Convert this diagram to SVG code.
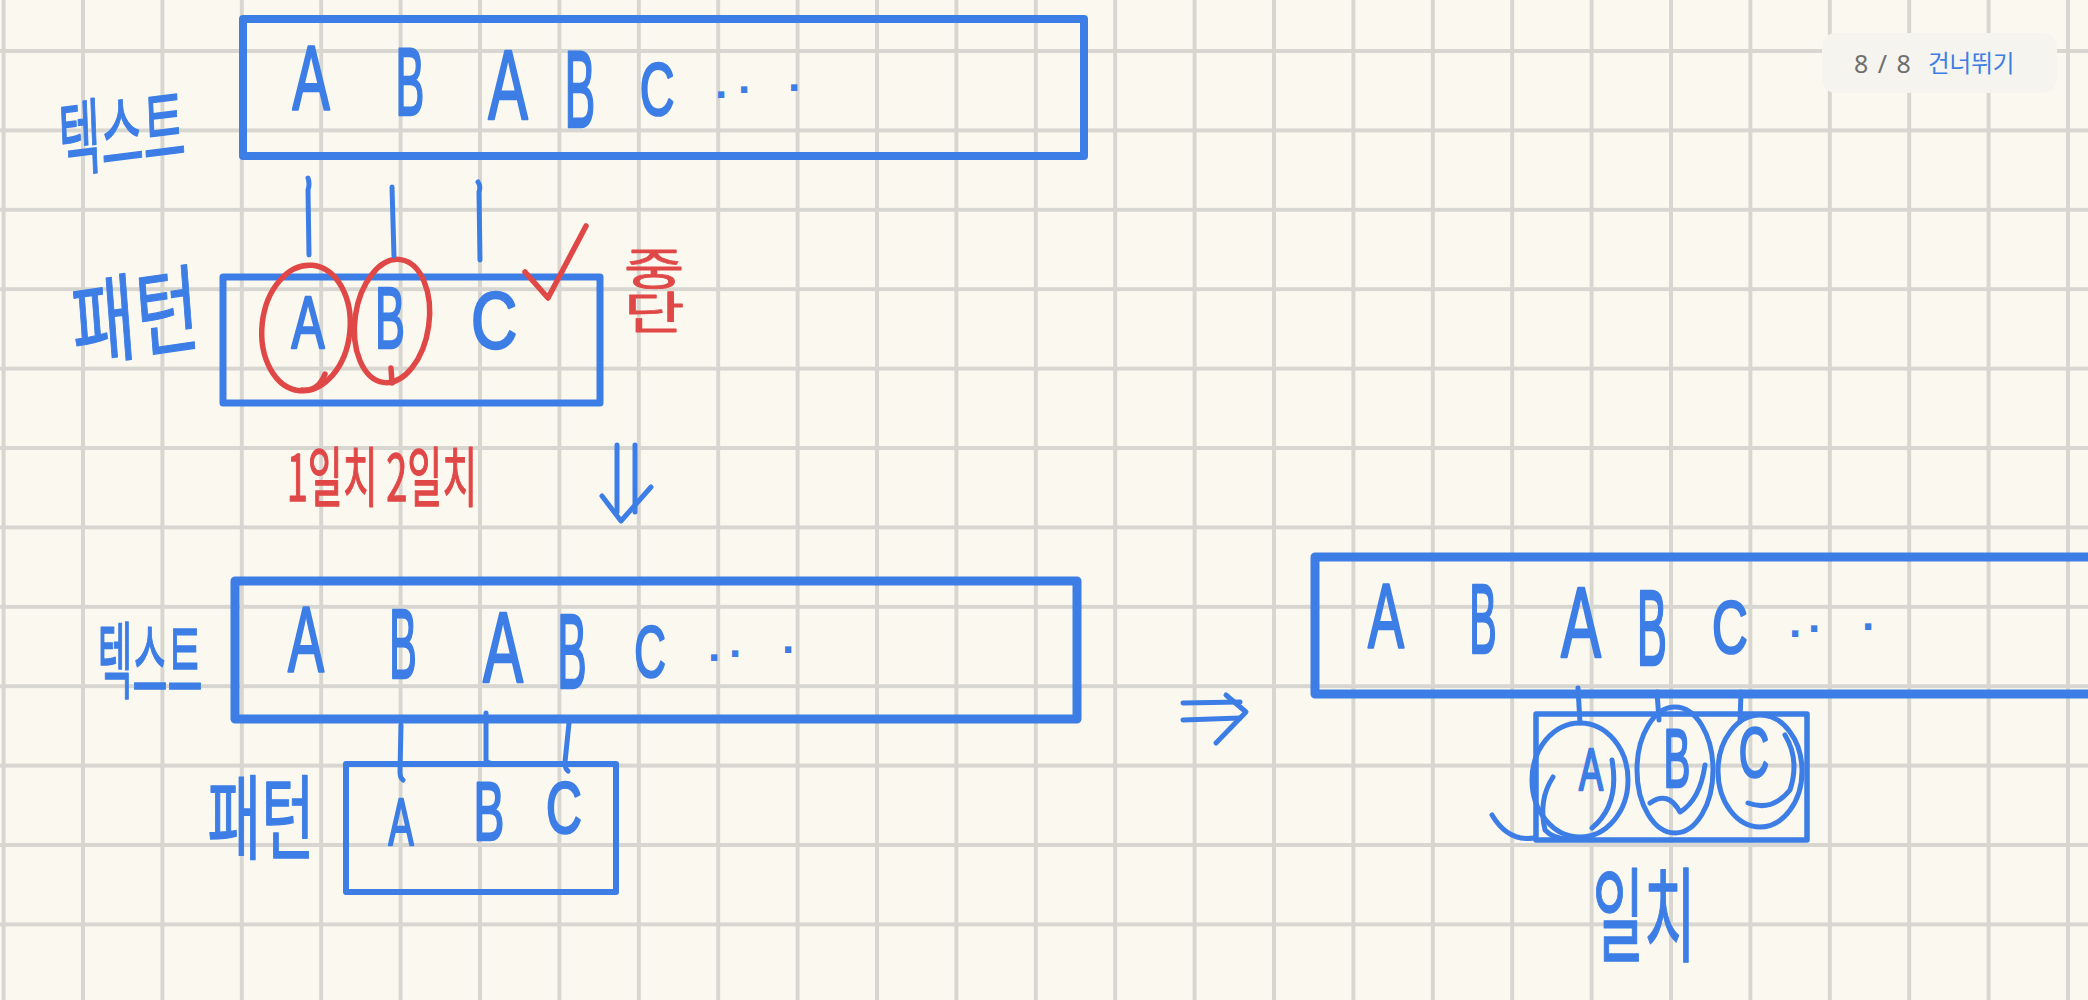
<svg xmlns="http://www.w3.org/2000/svg" width="2088" height="1000" viewBox="0 0 2088 1000">
  <style>
    .box { fill: none; stroke: #3d7ee6; stroke-linejoin: round; }
    .L { font-family: "Liberation Sans", Arial, sans-serif; fill: #3d7ee6; stroke: #3d7ee6; stroke-width: 2.5; stroke-linejoin: round; text-anchor: middle; }
    .dots { font-family: "Liberation Sans", Arial, sans-serif; font-weight: bold; font-size: 44px; fill: #3d7ee6; text-anchor: middle; }
    .kb { font-family: "Noto Sans CJK KR", "Noto Sans", sans-serif; font-weight: normal; fill: #3d7ee6; stroke: #3d7ee6; stroke-width: 0.8; stroke-linejoin: round; text-anchor: middle; }
    .kr { font-family: "Noto Sans CJK KR", "Noto Sans", sans-serif; font-weight: normal; fill: #e04848; stroke: #e04848; stroke-width: 0.8; stroke-linejoin: round; text-anchor: middle; }
    .bl { fill: none; stroke: #3d7ee6; stroke-width: 5; stroke-linecap: round; stroke-linejoin: round; }
    .rd { fill: none; stroke: #e04848; stroke-width: 5.5; stroke-linecap: round; stroke-linejoin: round; }
  </style>
  <defs>
    <pattern id="grid" x="43.3" y="11.3" width="79.4" height="79.4" patternUnits="userSpaceOnUse">
      <line x1="39.7" y1="0" x2="39.7" y2="79.4" stroke="#d8d6d1" stroke-width="4"/>
      <line x1="0" y1="39.7" x2="79.4" y2="39.7" stroke="#d8d6d1" stroke-width="4"/>
    </pattern>
  </defs>

  <rect id="background" x="0" y="0" width="2088" height="1000" fill="#fbf9ef"/>
  <rect id="grid-paper" x="0" y="0" width="2088" height="1000" fill="url(#grid)"/>

  <g id="page-badge">
    <rect x="1822" y="33" width="235" height="60" rx="14" fill="#f5f4ef"/>
    <text x="1854" y="73" font-family="'Noto Sans', sans-serif" font-size="25" fill="#6e6e6e" word-spacing="3">8 / 8</text>
    <text x="1928" y="72" font-family="'Noto Sans CJK KR', sans-serif" font-size="23.5" fill="#3d7ee6">건너뛰기</text>
  </g>

  <!-- Stage 1: text -->
  <g id="text-1">
    <rect class="box" x="243" y="19" width="841" height="137" stroke-width="8"/>
    <text class="L" font-size="90" transform="translate(311,109) scale(0.62,1)">A</text>
    <text class="L" font-size="96" transform="translate(410,115) scale(0.45,1)">B</text>
    <text class="L" font-size="99" transform="translate(508,119) scale(0.6,1)">A</text>
    <text class="L" font-size="110" transform="translate(580,127) scale(0.42,1)">B</text>
    <text class="L" font-size="74" transform="translate(657,115) scale(0.65,1)">C</text>
    <text class="dots" x="721 744 794" y="98 93 91">...</text>
  </g>
  <g id="label-text-1">
    <text class="kb" font-size="46" transform="translate(123,163) scale(1,1.8) rotate(-4)">텍스트</text>
  </g>

  <!-- Stage 1: pattern -->
  <g id="pattern-1">
    <rect class="box" x="223" y="277" width="377" height="126" stroke-width="7"/>
    <text class="L" font-size="75" transform="translate(308,348) scale(0.66,1)">A</text>
    <text class="L" font-size="88" transform="translate(390,348) scale(0.51,1)">B</text>
    <text class="L" font-size="80" transform="translate(494,348) scale(0.8,1)">C</text>
    <ellipse class="rd" cx="306" cy="328" rx="44" ry="63" transform="rotate(6 306 328)"/>
    <path class="rd" d="M302,390 Q318,392 325,374"/>
    <ellipse class="rd" cx="392" cy="321" rx="37" ry="62" transform="rotate(8 392 321)"/>
    <path class="rd" d="M391,368 L392,383"/>
  </g>
  <g id="label-pattern-1">
    <text class="kb" font-size="66" transform="translate(138,351) scale(1.05,1.45) rotate(-6)">패턴</text>
  </g>
  <g id="note-stop">
    <path class="rd" d="M525,272 L548,298 L586,226"/>
    <text class="kr" font-size="44" writing-mode="vertical-rl" transform="translate(654,290) scale(1.5,1)">중단</text>
  </g>
  <g id="note-matches">
    <text class="kr" font-size="38" transform="translate(382,501) scale(1,1.7)">1일치 2일치</text>
  </g>

  <!-- Stage 2: text -->
  <g id="text-2">
    <rect class="box" x="235" y="581" width="842" height="138" stroke-width="9"/>
    <text class="L" font-size="93" transform="translate(306,672) scale(0.58,1)">A</text>
    <text class="L" font-size="98" transform="translate(403,678) scale(0.42,1)">B</text>
    <text class="L" font-size="100" transform="translate(503,682) scale(0.6,1)">A</text>
    <text class="L" font-size="105" transform="translate(572,688) scale(0.42,1)">B</text>
    <text class="L" font-size="73" transform="translate(650,677) scale(0.6,1)">C</text>
    <text class="dots" x="714 735 788" y="661 657 653">...</text>
  </g>
  <g id="label-text-2">
    <text class="kb" font-size="40" transform="translate(150,692) scale(0.95,2.1)">텍스트</text>
  </g>

  <!-- Stage 2: pattern -->
  <g id="pattern-2">
    <rect class="box" x="346" y="764" width="270" height="128" stroke-width="6"/>
    <text class="L" font-size="66" transform="translate(401,845) scale(0.57,1)">A</text>
    <text class="L" font-size="84" transform="translate(489,840) scale(0.55,1)">B</text>
    <text class="L" font-size="72" transform="translate(564,833) scale(0.69,1)">C</text>
  </g>
  <g id="label-pattern-2">
    <text class="kb" font-size="56" transform="translate(261,852) scale(1.04,1.65)">패턴</text>
  </g>

  <!-- Stage 3: text -->
  <g id="text-3">
    <rect class="box" x="1315" y="557" width="820" height="137" stroke-width="9"/>
    <text class="L" font-size="90" transform="translate(1386,647) scale(0.6,1)">A</text>
    <text class="L" font-size="98" transform="translate(1483,653) scale(0.42,1)">B</text>
    <text class="L" font-size="100" transform="translate(1581,657) scale(0.6,1)">A</text>
    <text class="L" font-size="108" transform="translate(1652,665) scale(0.42,1)">B</text>
    <text class="L" font-size="74" transform="translate(1730,653) scale(0.67,1)">C</text>
    <text class="dots" x="1795 1814 1868" y="637 632 630">...</text>
  </g>

  <!-- Stage 3: pattern (all matched) -->
  <g id="pattern-3">
    <rect class="box" x="1536" y="714" width="271" height="126" stroke-width="5.5"/>
    <text class="L" font-size="60" transform="translate(1591,790) scale(0.6,1)">A</text>
    <text class="L" font-size="84" transform="translate(1677,787) scale(0.48,1)">B</text>
    <text class="L" font-size="70" transform="translate(1754,777) scale(0.6,1)">C</text>
    <ellipse class="bl" cx="1580" cy="780" rx="48" ry="57"/>
    <path class="bl" d="M1553,777 Q1538,800 1545,830 Q1556,842 1580,838"/>
    <path class="bl" d="M1592,828 Q1620,805 1612,760"/>
    <path class="bl" d="M1492,815 Q1508,842 1534,838"/>
    <ellipse class="bl" cx="1675" cy="770" rx="38" ry="63"/>
    <path class="bl" d="M1650,803 Q1668,790 1680,812 Q1700,800 1705,765"/>
    <ellipse class="bl" cx="1760" cy="771" rx="42" ry="56"/>
    <path class="bl" d="M1748,803 Q1772,812 1790,790 Q1800,760 1785,735"/>
  </g>
  <g id="label-match">
    <text class="kb" font-size="56" transform="translate(1644,954) scale(1,1.85)">일치</text>
  </g>

  <g id="connectors">
    <path class="bl" d="M308,178 Q310,184 308,190 L309,255"/>
    <path class="bl" d="M392,187 L394,256"/>
    <path class="bl" d="M478,182 Q481,186 479,192 L480,260"/>
    <path class="bl" d="M617,445 L617,512"/>
    <path class="bl" d="M635,445 L635,512"/>
    <path class="bl" d="M602,496 L621,521 L651,487"/>
    <path class="bl" d="M401,725 L400,772 Q400,778 403,780"/>
    <path class="bl" d="M486,713 L486,760 Q487,763 490,763"/>
    <path class="bl" d="M569,723 L565,762 Q565,769 568,771"/>
    <path class="bl" d="M1183,703 L1240,702"/>
    <path class="bl" d="M1183,720 L1240,718"/>
    <path class="bl" d="M1226,695 L1246,712 L1216,743"/>
    <path class="bl" d="M1578,688 L1580,723"/>
    <path class="bl" d="M1657,692 L1659,720"/>
    <path class="bl" d="M1741,692 L1740,722"/>
  </g>
</svg>
